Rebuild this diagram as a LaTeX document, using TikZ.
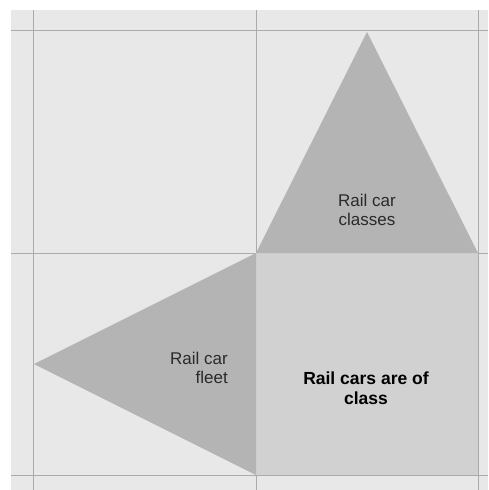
\documentclass[tikz,border=0pt]{standalone}
\usepackage{fontspec}
\setmainfont{Liberation Sans}
\usetikzlibrary{calc}
\definecolor{panel}{HTML}{E8E8E8}
\definecolor{wedge}{HTML}{B4B4B4}
\definecolor{cell}{HTML}{D1D1D1}
\definecolor{rule}{HTML}{ABABAB}
\definecolor{ink}{HTML}{2A2A2A}

\begin{document}
\begin{tikzpicture}[x=1pt,y=-1pt,font=\fontsize{17}{19.5}\selectfont,lbl/.style={inner sep=0pt,text=ink}]
 \useasboundingbox (0,0) rectangle (488,490);
 \fill[panel] (11,10) rectangle (488,490);
 \foreach \p in {33,256,478} \draw[rule,line width=1pt] (\p,10)--(\p,490);
 \foreach \p in {30,253,475} \draw[rule,line width=1pt] (11,\p)--(488,\p);
 % the two wedges and the cell between them
 \fill[cell] (256,253) rectangle (478,475);
 \fill[wedge] (256,253)--(367,32)--(478,253)--cycle;
 \fill[wedge] (256,253)--(34,364)--(256,475)--cycle;
 \node[lbl,align=center] (classes) at (367,210) {Rail car\\classes};
 \node[lbl,align=right,anchor=east] (fleet) at (228,368) {Rail car\\fleet};
 \node[lbl,align=center,text=black,font=\fontsize{17.5}{19.5}\selectfont\bfseries] (ofclass) at (366,388) {Rail cars are of\\class};
\end{tikzpicture}
\end{document}
